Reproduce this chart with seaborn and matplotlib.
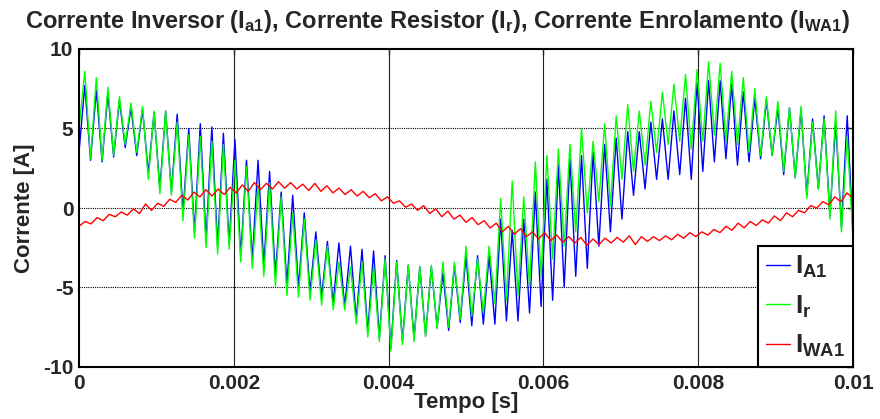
import numpy as np
import pandas as pd
import matplotlib
matplotlib.use("Agg")
import matplotlib.pyplot as plt
import seaborn as sns

# ---------------- data ----------------
# alternating peak / trough values, one pair per switching cycle
ia1_start = 3.5
ia1_peaks = [7.7, 7.4, 7.2, 6.8, 6.3, 6.2, 6.0, 6.1, 5.9, 5.0, 5.3, 5.1, 4.7, 4.3, 3.0, 3.0, 2.3,
             1.0, 0.8, -0.3, -1.5, -2.1, -2.2, -2.4, -2.6, -2.7, -3.0, -3.3, -3.6, -3.7, -3.7, -4.1,
             -3.6, -3.0, -3.0, -3.0, -0.7, -1.4, -0.7, 1.0, 1.8, 2.7, 3.1, 3.3, 3.5, 4.0, 4.4, 4.8,
             4.8, 5.4, 5.6, 6.1, 6.9, 7.9, 8.0, 8.0, 7.8, 7.3, 6.9, 6.8, 6.3, 6.3, 6.2, 5.6, 5.8,
             5.4, 5.8]
ia1_troughs = [3.0, 2.9, 3.2, 3.8, 3.3, 2.2, 1.2, 1.0, -0.3, -1.5, -2.0, -2.4, -2.3, -3.0, -3.3,
               -3.6, -4.2, -4.8, -5.0, -5.3, -5.6, -6.0, -6.2, -7.0, -7.8, -8.2, -8.8, -8.4, -8.2,
               -8.0, -7.5, -7.7, -7.2, -7.4, -7.3, -7.3, -7.1, -7.1, -6.6, -6.2, -5.8, -5.0, -4.3,
               -3.8, -2.4, -1.5, -0.7, 0.8, 1.2, 1.8, 1.8, 2.1, 1.8, 2.3, 2.9, 3.1, 2.7, 2.9, 3.1,
               3.3, 2.1, 1.9, 0.8, 1.2, -0.5, -1.2, -1.6]

ir_start = 5.0
ir_peaks = [8.6, 8.2, 7.6, 7.0, 6.6, 6.4, 6.1, 6.1, 5.4, 4.6, 4.5, 4.2, 4.0, 3.0, 2.6, 1.4, 1.6,
            0.7, -0.3, -0.7, -2.0, -2.4, -3.4, -3.7, -3.4, -3.7, -3.2, -3.4, -3.6, -3.7, -3.6, -3.4,
            -3.4, -2.4, -3.2, -2.4, 0.6, 1.7, 0.7, 2.9, 3.3, 3.7, 4.0, 5.0, 4.2, 5.3, 5.8, 6.5,
            6.1, 6.7, 7.3, 7.8, 8.4, 8.7, 9.2, 9.1, 8.6, 8.2, 7.5, 7.0, 6.7, 6.3, 6.4, 5.4, 5.6,
            6.1, 4.5]
ir_troughs = [3.1, 3.0, 3.3, 4.0, 3.5, 1.8, 0.9, 0.8, -0.8, -1.9, -2.5, -2.9, -2.6, -3.4, -3.8,
              -4.3, -4.9, -5.5, -5.6, -5.8, -6.1, -6.4, -6.4, -7.3, -8.1, -8.4, -9.0, -8.6, -8.4,
              -8.1, -7.6, -7.5, -7.0, -6.8, -6.6, -6.0, -5.8, -5.5, -4.9, -4.3, -3.2, -2.4, -1.5,
              -0.3, 0.4, 0.1, 1.8, 2.3, 2.7, 3.5, 4.0, 4.2, 3.7, 4.2, 4.6, 4.2, 4.0, 3.5, 3.3,
              3.3, 2.3, 1.9, 0.6, 1.2, -0.7, -1.5, -2.0]

iwa1 = [-1.15, -0.85, -1.0, -0.6, -0.8, -0.4, -0.55, -0.25,
        -0.45, -0.05, -0.35, 0.25, -0.15, 0.3, 0.1, 0.55,
        0.35, 0.8, 0.5, 1.0, 0.7, 1.15, 0.75, 1.2,
        0.85, 1.3, 0.95, 1.45, 1.05, 1.6, 1.15, 1.55,
        1.2, 1.65, 1.25, 1.6, 1.2, 1.5, 1.1, 1.55,
        1.05, 1.4, 0.95, 1.25, 0.85, 1.15, 0.75, 1.05,
        0.65, 0.9, 0.45, 0.7, 0.3, 0.45, 0.05, 0.25,
        -0.15, 0.15, -0.35, -0.05, -0.55, -0.2, -0.7, -0.45,
        -0.9, -0.6, -1.05, -0.8, -1.25, -0.95, -1.5, -1.15,
        -1.65, -1.3, -1.8, -1.5, -1.95, -1.55, -2.05, -1.7,
        -2.15, -1.8, -2.2, -1.85, -2.35, -1.95, -2.3, -1.9,
        -2.2, -1.85, -2.15, -1.75, -2.3, -1.8, -2.1, -1.8,
        -2.05, -1.75, -2.0, -1.65, -1.9, -1.55, -1.8, -1.5,
        -1.7, -1.35, -1.55, -1.15, -1.4, -0.95, -1.25, -0.85,
        -1.1, -0.75, -0.95, -0.5, -0.8, -0.3, -0.55, -0.15,
        -0.3, 0.15, 0.0, 0.4, 0.2, 0.7, 0.4, 0.95,
        0.6]

t_end = 0.01
x_ticks = [0, 0.002, 0.004, 0.006, 0.008, 0.01]
x_ticklabels = ['0', '0.002', '0.004', '0.006', '0.008', '0.01']
y_ticks = [-10, -5, 0, 5, 10]
y_ticklabels = ['-10', '-5', '0', '5', '10']
labels = [r'$\mathbf{I_{A1}}$', r'$\mathbf{I_{r}}$', r'$\mathbf{I_{WA1}}$']
colors = ['#0000ff', '#00ff00', '#ff0000']


def interleave(start, peaks, troughs):
    vals = [start]
    for p, q in zip(peaks, troughs):
        vals += [p, q]
    return np.array(vals)


ia1 = interleave(ia1_start, ia1_peaks, ia1_troughs)
ir = interleave(ir_start, ir_peaks, ir_troughs)
t_sw = np.linspace(0, t_end, len(ia1))
t_w = np.linspace(0, t_end, len(iwa1))

# ---------------- style ----------------
sns.set_style("white")
fam = 'Liberation Sans'
plt.rcParams['font.family'] = [fam, 'DejaVu Sans']
plt.rcParams['font.weight'] = 'bold'
plt.rcParams['axes.unicode_minus'] = False
plt.rcParams['mathtext.fontset'] = 'custom'
plt.rcParams['mathtext.rm'] = f'{fam}:bold'
plt.rcParams['mathtext.bf'] = f'{fam}:bold'
plt.rcParams['mathtext.it'] = f'{fam}:bold'

fig = plt.figure(figsize=(8.8, 4.19), dpi=100)
ax = fig.add_axes([79 / 880, 1 - 367 / 419, (853 - 79) / 880, (367 - 49) / 419])

df1 = pd.DataFrame({'t': t_sw, 'v': ia1})
df2 = pd.DataFrame({'t': t_sw, 'v': ir})
df3 = pd.DataFrame({'t': t_w, 'v': iwa1})
sns.lineplot(data=df1, x='t', y='v', ax=ax, color=colors[0], lw=1.0, label=labels[0])
sns.lineplot(data=df2, x='t', y='v', ax=ax, color=colors[1], lw=1.0, label=labels[1])
sns.lineplot(data=df3, x='t', y='v', ax=ax, color=colors[2], lw=1.0, label=labels[2])

ax.set_xlim(0, t_end)
ax.set_ylim(-10, 10)
ax.set_xticks(x_ticks)
ax.set_xticklabels(x_ticklabels)
ax.set_yticks(y_ticks)
ax.set_yticklabels(y_ticklabels)
ax.tick_params(axis='both', labelsize=15, direction='in', length=4, width=1,
               top=True, right=True)
ax.tick_params(axis='x', pad=5)
ax.tick_params(axis='y', pad=4)
for lab in ax.get_xticklabels() + ax.get_yticklabels():
    lab.set_fontweight('bold')

for v in x_ticks[1:-1]:
    ax.axvline(v, color='#222222', lw=0.8, ls='-', zorder=0)
for v in y_ticks[1:-1]:
    ax.axhline(v, color='black', lw=0.8, ls=(0, (1, 1)), zorder=0)

for s in ax.spines.values():
    s.set_linewidth(1.5)
    s.set_color('black')

ax.set_xlabel('Tempo [s]', fontsize=16, fontweight='bold', labelpad=-1)
ax.set_ylabel('Corrente [A]', fontsize=16, fontweight='bold', labelpad=6)
fig.text(438 / 880, 1 - 28 / 419,
         r'Corrente Inversor (I$_{\mathbf{a1}}$), Corrente Resistor (I$_{\mathbf{r}}$), '
         r'Corrente Enrolamento (I$_{\mathbf{WA1}}$)',
         ha='center', va='baseline', fontsize=17, fontweight='bold')

leg = ax.legend(loc='lower right', fontsize=19, frameon=True, fancybox=False,
                borderaxespad=0, handlelength=0.9, handletextpad=0.2,
                labelspacing=0.5, borderpad=0.3)
leg.get_frame().set_edgecolor('black')
leg.get_frame().set_linewidth(1.5)
leg.get_frame().set_alpha(1)

fig.savefig('out.png', dpi=100)
